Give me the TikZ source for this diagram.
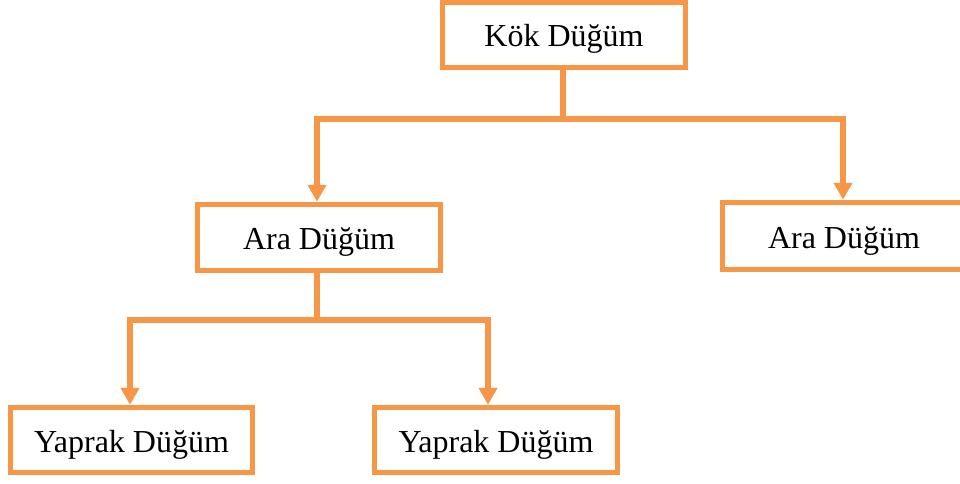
\documentclass[tikz,border=0pt]{standalone}
\usepackage{fontspec}
\setmainfont{Liberation Serif}
\usetikzlibrary{arrows.meta}
\definecolor{org}{RGB}{247,150,70}
\begin{document}
\begin{tikzpicture}[x=1pt,y=-1pt,
  box/.style={draw=org,line width=5.5pt,fill=white,rectangle,minimum width=243pt,minimum height=65pt,inner sep=0pt,text height=24pt,text depth=0pt,font=\fontsize{32}{36}\selectfont},
  conn/.style={draw=org,line width=5.5pt},
  arr/.style={conn,-{Triangle[width=18pt,length=17pt]}}]
\clip (0,0) rectangle (960,484);
\fill[white] (0,0) rectangle (960,484);
\node[box] (root) at (564,35) {Kök Düğüm};
\node[box,minimum height=66pt] (ara1) at (319,237.5) {Ara Düğüm};
\node[box,minimum height=67pt] (ara2) at (844,236) {Ara Düğüm};
\node[box,minimum width=242pt] (yap1) at (131.5,440) {Yaprak Düğüm};
\node[box] (yap2) at (496,440) {Yaprak Düğüm};
\coordinate (j1) at (563,119);
\coordinate (j2) at (317,320);
\draw[conn] ([xshift=-1pt]root.south) -- (j1);
\draw[arr] (j1) -| ([xshift=-2pt]ara1.north);
\draw[arr] (j1) -| ([xshift=-1pt]ara2.north);
\draw[conn] ([xshift=-2pt]ara1.south) -- (j2);
\draw[arr] (j2) -| ([xshift=-1.5pt]yap1.north);
\draw[arr] (j2) -| ([xshift=-8pt]yap2.north);
\end{tikzpicture}
\end{document}
